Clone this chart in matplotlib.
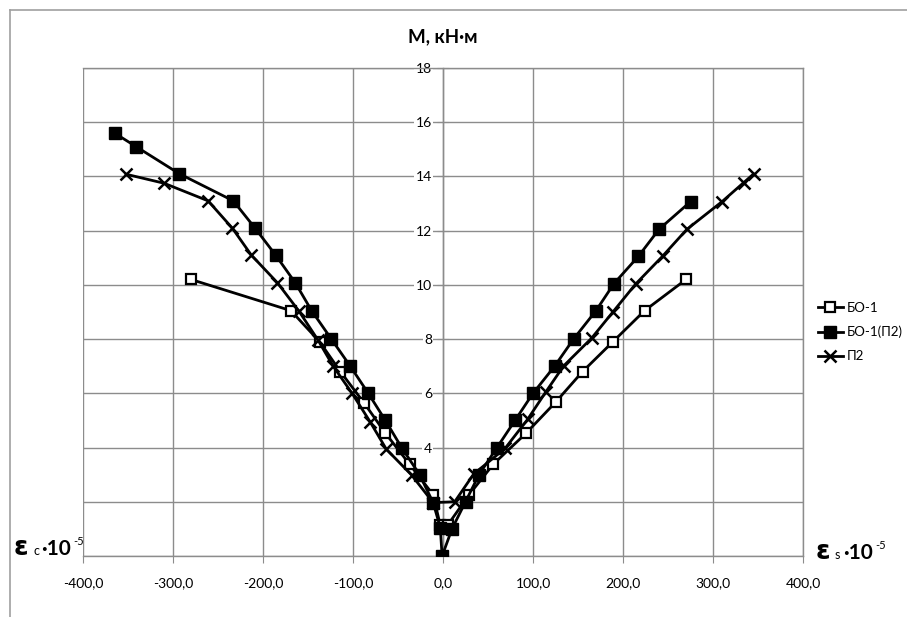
import matplotlib
matplotlib.use("Agg")
import matplotlib.pyplot as plt

plt.rcParams['font.family'] = ['Lato', 'DejaVu Sans']

# БО-1 (open squares), left branch top -> bottom, then right branch
bo1_x = [-280, -169, -137, -114, -88, -64, -37, -11, -3, 5, 29, 56, 92, 125, 155, 189, 224, 270]
bo1_m = [10.2, 9.05, 7.9, 6.8, 5.66, 4.53, 3.38, 2.26, 1.13, 1.13, 2.26, 3.39, 4.52, 5.67, 6.8, 7.91, 9.05, 10.2]

# БО-1(П2) (filled squares)
bo1p2_x = [-365, -341, -293, -233, -209, -186, -164, -146, -124, -103, -83, -64, -46, -26, -11, -3, -1,
           10, 25, 40, 60, 80, 100, 124, 145, 170, 190, 217, 240, 275]
bo1p2_m = [15.6, 15.1, 14.1, 13.1, 12.1, 11.1, 10.07, 9.05, 8.0, 7.0, 6.0, 5.0, 4.0, 3.0, 1.97, 1.05, 0.0,
           1.0, 2.0, 3.0, 4.0, 5.0, 6.0, 7.0, 8.0, 9.05, 10.05, 11.05, 12.05, 13.07]

# П2 (x markers)
p2_x = [-352, -310, -261, -234, -213, -184, -160, -139, -122, -101, -81, -63, -35, -11,
        13, 34, 69, 94, 114, 134, 165, 189, 214, 244, 271, 310, 334, 345]
p2_m = [14.08, 13.75, 13.1, 12.09, 11.1, 10.08, 9.03, 7.97, 7.0, 6.0, 4.95, 3.94, 2.99, 1.97,
        2.0, 3.02, 3.97, 5.04, 6.04, 7.01, 8.03, 9.01, 10.03, 11.06, 12.05, 13.07, 13.77, 14.09]

x_ticks = [-400, -300, -200, -100, 0, 100, 200, 300, 400]
y_ticks = [0, 2, 4, 6, 8, 10, 12, 14, 16, 18]

W, H = 907, 617
fig = plt.figure(figsize=(W / 100, H / 100), dpi=100)
ax = fig.add_axes([83 / W, (H - 556) / H, 720 / W, 488 / H])

grid_c = '#8c8c8c'
ax.set_xlim(-400, 400)
ax.set_ylim(0, 18)
ax.set_xticks(x_ticks)
ax.set_yticks(y_ticks)
ax.grid(True, color=grid_c, linewidth=1)
ax.set_axisbelow(True)
for s in ax.spines.values():
    s.set_color(grid_c)
    s.set_linewidth(1)
ax.spines['left'].set_position(('data', 0))

ax.set_xticklabels([f"{v:.1f}".replace('.', ',') for v in x_ticks], fontsize=10)
ax.tick_params(axis='x', direction='out', length=5, color=grid_c, pad=10)
ax.set_yticklabels(['' if v < 4 else str(v) for v in y_ticks], fontsize=10)
ax.tick_params(axis='y', direction='inout', length=8, color=grid_c, pad=4)
for lab in ax.get_yticklabels():
    lab.set_bbox(dict(facecolor='white', edgecolor='none', pad=1))

ax.plot(bo1_x, bo1_m, color='black', lw=2, marker='s', ms=7, mfc='white', mec='black', mew=1.6,
        label='БО-1', zorder=3)
ax.plot(bo1p2_x, bo1p2_m, color='black', lw=2, marker='s', ms=8, mfc='black', mec='black',
        label='БО-1(П2)', zorder=4)
ax.plot(p2_x, p2_m, color='black', lw=2, marker='x', ms=9, mew=1.8, label='П2', zorder=5)

leg = fig.legend(loc='upper left', bbox_to_anchor=(806 / W, 1 - 290 / H), frameon=False,
                 fontsize=9.5, handlelength=1.9, handletextpad=0.3, labelspacing=0.9)

# chart border
fig.add_artist(plt.Line2D([10 / W, 10 / W], [0, 1 - 10 / H], color='#a0a0a0', lw=1.2))
fig.add_artist(plt.Line2D([10 / W, 1], [1 - 10 / H, 1 - 10 / H], color='#a0a0a0', lw=1.2))

fig.text(443 / W, 1 - 37 / H, 'M, кН·м', ha='center', va='center', fontsize=13.5, fontweight='bold')


def strain_label(x0, base, sub):
    y = 1 - base / H
    fig.text(x0 / W, y, 'ε', fontsize=19, fontweight='bold', va='baseline', family='DejaVu Sans')
    fig.text((x0 + 19) / W, y, sub, fontsize=9, va='baseline')
    fig.text((x0 + 27) / W, y, '·10', fontsize=15, fontweight='bold', va='baseline')
    fig.text((x0 + 59) / W, 1 - (base - 10) / H, '-5', fontsize=8, va='baseline')


strain_label(14, 555, 'c')
strain_label(816, 559, 's')

fig.savefig('out.png', dpi=100)
